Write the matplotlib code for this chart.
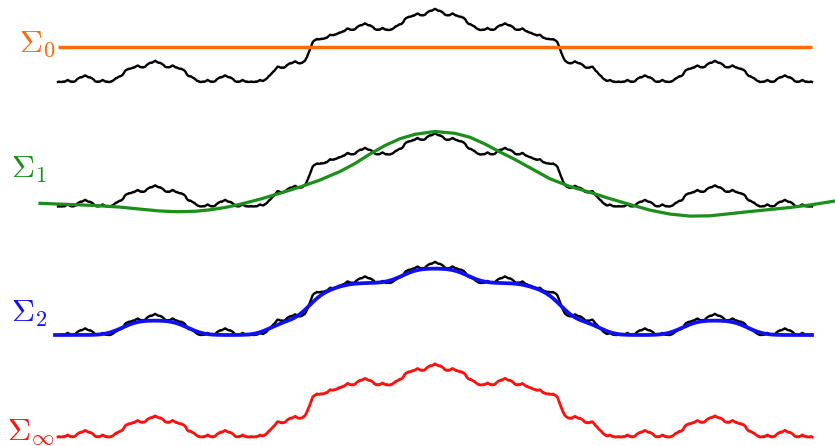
import numpy as np
import matplotlib
matplotlib.use("Agg")
import matplotlib.pyplot as plt

plt.rcParams['mathtext.fontset'] = 'cm'

# ---------------------------------------------------------------
# Self-similar curve: every level adds periodic bumps centred on t = 0.5,
# each level four times narrower and roughly three times lower.
# ---------------------------------------------------------------
LEVEL_PERIOD = [1.486, 0.3714, 0.0928, 0.0232, 0.0058, 0.00145]
LEVEL_AMPLITUDE = [52.0, 14.5, 4.6, 1.6, 0.4, 0.14]
# finer levels have rounder bumps
LEVEL_SOFTNESS = [1.0, 1.5, 4.0, 11.0, 11.0, 11.0]

# bump profile made of stacked smooth steps (in units of the level period)
STEP_HALF_WIDTH = [0.147, 0.113, 0.089]
STEP_RAMP = [0.009, 0.008, 0.015]
STEP_HEIGHT = [0.27, 0.55, 0.18]

# vertical baseline of each row
ROW_BASE = {"0": 0.0, "1": -124.5, "2": -253.0, "inf": -355.0}

# Sigma_0: constant level
SIGMA0_LEVEL = 35.0

# Sigma_1: smooth first approximation
SIGMA1_T = [-0.0239, 0.0027, 0.0292, 0.0557, 0.0822, 0.1088, 0.1353, 0.1578,
            0.1817, 0.2016, 0.2215, 0.2414, 0.2679, 0.2944, 0.3210, 0.3475,
            0.3740, 0.3939, 0.4138, 0.4337, 0.4536, 0.4735, 0.5000, 0.5265,
            0.5464, 0.5663, 0.5862, 0.6061, 0.6260, 0.6525, 0.6790, 0.7056,
            0.7321, 0.7586, 0.7851, 0.8117, 0.8382, 0.8647, 0.8912, 0.9178,
            0.9443, 0.9708, 0.9973, 1.0305]
SIGMA1_V = [3.2, 2.4, 1.6, 0.7, -0.6, -2.6, -4.5, -5.2,
            -4.8, -3.3, -1.0, 2.2, 7.3, 13.3, 19.5, 26.5,
            35.0, 43.0, 52.5, 61.0, 67.8, 72.2, 75.0, 73.2,
            69.2, 62.5, 54.5, 47.0, 38.7, 27.7, 20.0, 14.2,
            7.8, 2.0, -3.6, -7.6, -9.6, -9.3, -7.2, -5.0,
            -3.0, -1.0, 1.5, 5.5]

# Sigma_2: first two levels, softened
SIGMA2_LEVELS = 2
SIGMA2_SOFTEN = 0.015

COLORS = {"0": "#ff6a0d", "1": "#1a8f1a", "2": "#1010f0", "inf": "#ff1010"}


def smoothstep(u):
    u = np.clip(u, 0.0, 1.0)
    return u * u * (3.0 - 2.0 * u)


def bump(t, period, soft):
    d = np.abs(((t - 0.5) / period + 0.5) % 1.0 - 0.5)
    g = np.zeros_like(t)
    for hw, r, h in zip(STEP_HALF_WIDTH, STEP_RAMP, STEP_HEIGHT):
        r = r * soft
        g += h * smoothstep((hw + r - d) / (2.0 * r))
    return g


def curve(t, levels):
    y = np.zeros_like(t)
    params = list(zip(LEVEL_PERIOD, LEVEL_AMPLITUDE, LEVEL_SOFTNESS))[:levels]
    for p, a, s in params:
        y += a * bump(t, p, s)
    return y


t_full = np.linspace(0.0, 1.0, 40001)
f_full = curve(t_full, len(LEVEL_PERIOD))

# softened partial sum
t2 = np.linspace(-0.004, 1.0, 6001)
dt = t2[1] - t2[0]
raw2 = curve(t2, SIGMA2_LEVELS)
half = int(4 * SIGMA2_SOFTEN / dt)
k = np.exp(-0.5 * (np.arange(-half, half + 1) * dt / SIGMA2_SOFTEN) ** 2)
k /= k.sum()
padded = np.pad(raw2, half, mode="edge")
f2 = np.convolve(padded, k, mode="valid")

fig = plt.figure(figsize=(8.35, 4.46), dpi=100)
ax = fig.add_axes([0, 0, 1, 1])
ax.set_xlim(-58 / 754, 777 / 754)
ax.set_ylim(-364, 82)
ax.axis("off")

BLACK_LW = 1.7

# row 0
ax.plot(t_full, f_full + ROW_BASE["0"], color="black", lw=BLACK_LW, zorder=2)
ax.plot([0.0, 1.0], [SIGMA0_LEVEL + ROW_BASE["0"]] * 2, color=COLORS["0"],
        lw=2.5, zorder=3, solid_capstyle="butt")

# row 1
ax.plot(t_full, f_full + ROW_BASE["1"], color="black", lw=BLACK_LW, zorder=2)
ax.plot(SIGMA1_T, np.array(SIGMA1_V) + ROW_BASE["1"], color=COLORS["1"],
        lw=2.3, zorder=3)

# row 2
ax.plot(t_full, f_full + ROW_BASE["2"], color="black", lw=BLACK_LW, zorder=2)
ax.plot(t2, f2 + ROW_BASE["2"], color=COLORS["2"], lw=2.7, zorder=3)

# row inf
ax.plot(t_full, f_full + ROW_BASE["inf"], color=COLORS["inf"], lw=2.0, zorder=3)

W, H = 835.0, 446.0
labels = [("0", r"$\Sigma_0$", 19, 52),
          ("1", r"$\Sigma_1$", 11, 178),
          ("2", r"$\Sigma_2$", 11, 322),
          ("inf", r"$\Sigma_\infty$", 7, 440)]
for key, txt, px, py in labels:
    fig.text(px / W, 1 - py / H, txt, color=COLORS[key], fontsize=23,
             ha="left", va="baseline")

fig.savefig("out.png", dpi=100)
